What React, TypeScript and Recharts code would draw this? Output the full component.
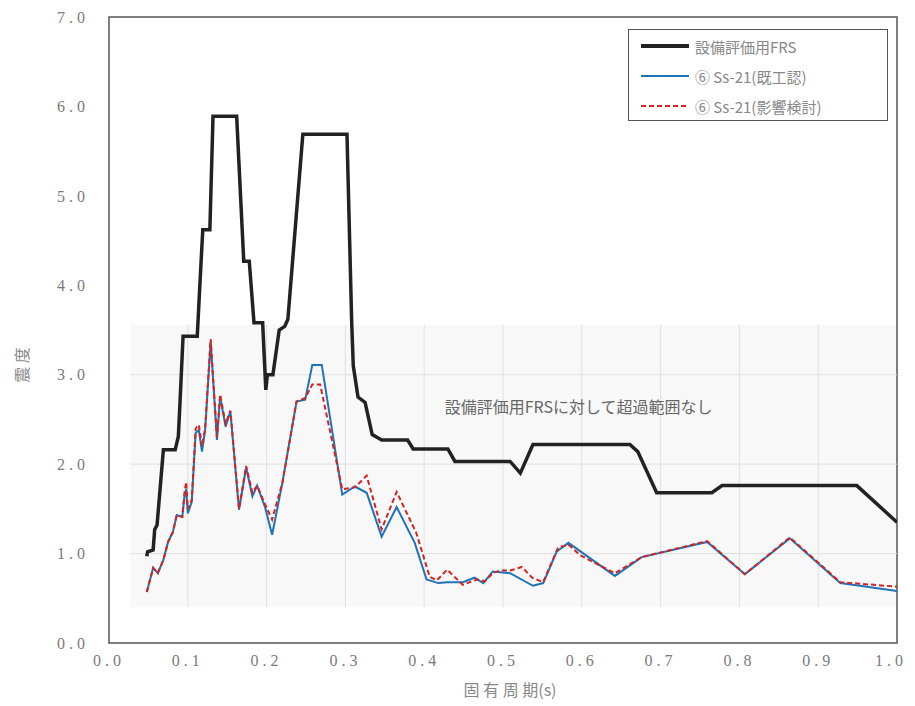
import React from 'react';
import { LineChart, Line, XAxis, YAxis, ReferenceArea, ReferenceLine, ReferenceDot, Legend, Label } from 'recharts';

// 設備評価用FRS
const frsPeriod = [0.048,0.049,0.056,0.058,0.061,0.069,0.084,0.088,0.090,0.094,0.112,0.115,0.119,0.128,0.132,0.162,0.171,0.178,0.184,0.195,0.199,0.201,0.208,0.216,0.223,0.227,0.246,0.302,0.308,0.310,0.316,0.325,0.334,0.340,0.346,0.379,0.386,0.430,0.439,0.509,0.522,0.538,0.661,0.671,0.695,0.765,0.778,0.949,1.0];
const frsValue = [0.97,1.02,1.04,1.27,1.32,2.16,2.16,2.31,2.67,3.43,3.43,3.95,4.62,4.62,5.89,5.89,4.27,4.27,3.58,3.58,2.83,3.0,3.0,3.5,3.54,3.62,5.69,5.69,3.58,3.1,2.75,2.69,2.33,2.3,2.27,2.27,2.17,2.17,2.03,2.03,1.9,2.22,2.22,2.14,1.68,1.68,1.76,1.76,1.35];

// ⑥ Ss-21(既工認)
const kikoPeriod = [0.048,0.056,0.062,0.069,0.075,0.081,0.086,0.093,0.096,0.098,0.100,0.105,0.110,0.114,0.118,0.122,0.129,0.137,0.141,0.148,0.154,0.165,0.174,0.182,0.188,0.198,0.207,0.220,0.238,0.249,0.258,0.270,0.296,0.312,0.327,0.346,0.365,0.388,0.403,0.418,0.429,0.449,0.464,0.475,0.487,0.509,0.538,0.551,0.568,0.583,0.642,0.676,0.759,0.807,0.864,0.928,1.0];
const kikoValue = [0.57,0.84,0.78,0.93,1.13,1.24,1.43,1.41,1.66,1.72,1.45,1.58,2.35,2.38,2.14,2.38,3.37,2.27,2.75,2.42,2.59,1.49,1.96,1.64,1.76,1.52,1.21,1.79,2.7,2.72,3.11,3.11,1.66,1.75,1.68,1.19,1.52,1.12,0.71,0.67,0.68,0.68,0.73,0.67,0.8,0.78,0.64,0.67,1.02,1.12,0.75,0.96,1.13,0.77,1.17,0.67,0.58];

// ⑥ Ss-21(影響検討)
const eikyoPeriod = [0.048,0.056,0.062,0.069,0.075,0.081,0.086,0.093,0.096,0.098,0.100,0.105,0.110,0.114,0.118,0.122,0.129,0.137,0.141,0.148,0.154,0.165,0.174,0.182,0.188,0.198,0.207,0.220,0.238,0.249,0.258,0.268,0.296,0.312,0.327,0.346,0.365,0.390,0.407,0.416,0.429,0.449,0.467,0.477,0.487,0.496,0.509,0.524,0.537,0.551,0.570,0.583,0.598,0.642,0.676,0.759,0.807,0.864,0.928,1.0];
const eikyoValue = [0.57,0.84,0.78,0.93,1.13,1.24,1.43,1.41,1.7,1.8,1.5,1.6,2.4,2.44,2.2,2.4,3.4,2.3,2.78,2.45,2.6,1.5,1.98,1.68,1.76,1.55,1.38,1.79,2.7,2.74,2.89,2.89,1.72,1.74,1.87,1.27,1.69,1.23,0.74,0.7,0.82,0.65,0.71,0.69,0.78,0.81,0.81,0.85,0.73,0.68,1.07,1.1,0.98,0.78,0.96,1.14,0.77,1.18,0.68,0.63];

const xTicks = [0, 0.1, 0.2, 0.3, 0.4, 0.5, 0.6, 0.7, 0.8, 0.9, 1.0];
const yTicks = [0, 1, 2, 3, 4, 5, 6, 7];
const gridX = [0.1, 0.2, 0.3, 0.4, 0.5, 0.6, 0.7, 0.8, 0.9];
const gridY = [1, 2, 3];
const panel = { x1: 0.027, x2: 1.0, y1: 0.4, y2: 3.56 };

const seriesNames = ['設備評価用FRS', '⑥ Ss-21(既工認)', '⑥ Ss-21(影響検討)'];
const annotation = '設備評価用FRSに対して超過範囲なし';
const xTitle = '固 有 周 期(s)';
const yTitle = '震 度';

const toRows = (ts: number[], vs: number[]) => ts.map((t, i) => ({ t, v: vs[i] }));
const frsData = toRows(frsPeriod, frsValue);
const kikoData = toRows(kikoPeriod, kikoValue);
const eikyoData = toRows(eikyoPeriod, eikyoValue);

const tickStyle = { fill: '#7a7a7a', fontSize: 16, fontFamily: 'Liberation Serif', letterSpacing: 4 };

const renderLegend = () => (
  <div style={{ width: 260, height: 92, border: '1.5px solid #555', background: '#fff', boxSizing: 'border-box', fontFamily: 'Noto Sans CJK JP', color: '#888', fontSize: 15, paddingTop: 1 }}>
    {[
      { color: '#222', w: 4, dash: undefined as string | undefined },
      { color: '#1f73b7', w: 2, dash: undefined },
      { color: '#d42323', w: 2, dash: '5 3' },
    ].map((s, i) => (
      <div key={i} style={{ display: 'flex', alignItems: 'center', height: 30, paddingLeft: 12 }}>
        <svg width={48} height={10} style={{ marginRight: 6 }}>
          <line x1={0} y1={5} x2={48} y2={5} stroke={s.color} strokeWidth={s.w} strokeDasharray={s.dash} />
        </svg>
        <span>{seriesNames[i]}</span>
      </div>
    ))}
  </div>
);

export default function App() {
  return (
    <LineChart width={899} height={698} margin={{ top: 9, right: 10, bottom: 18, left: 41 }}>
      <XAxis
        type="number"
        dataKey="t"
        domain={[0, 1]}
        ticks={xTicks}
        tickFormatter={(v: number) => v.toFixed(1)}
        axisLine={false}
        tickLine={false}
        tickSize={0}
        tickMargin={12}
        height={45}
        tick={tickStyle}
        allowDataOverflow
      >
        <Label
          content={() => (
            <text x={502} y={688} textAnchor="middle" fill="#888" fontSize={16} fontFamily="Noto Sans CJK JP">{xTitle}</text>
          )}
        />
      </XAxis>
      <YAxis
        type="number"
        domain={[0, 7]}
        ticks={yTicks}
        tickFormatter={(v: number) => v.toFixed(1)}
        axisLine={false}
        tickLine={false}
        tickSize={0}
        tickMargin={20}
        width={60}
        tick={tickStyle}
      >
        <Label
          content={() => (
            <text x={20} y={357} textAnchor="middle" fill="#888" fontSize={16} fontFamily="Noto Sans CJK JP" transform="rotate(-90 20 357)">{yTitle}</text>
          )}
        />
      </YAxis>
      <ReferenceArea x1={panel.x1} x2={panel.x2} y1={panel.y1} y2={panel.y2} fill="#f8f8f8" fillOpacity={1} stroke="none" />
      {gridX.map((g) => (
        <ReferenceLine key={'gx' + g} segment={[{ x: g, y: panel.y1 }, { x: g, y: panel.y2 }]} stroke="#e0e0e0" strokeWidth={1} />
      ))}
      {gridY.map((g) => (
        <ReferenceLine key={'gy' + g} segment={[{ x: panel.x1, y: g }, { x: panel.x2, y: g }]} stroke="#e0e0e0" strokeWidth={1} />
      ))}
      <ReferenceArea x1={0} x2={1} y1={0} y2={7} fill="none" stroke="#555" strokeWidth={1.5} />
      <Line data={frsData} dataKey="v" type="linear" stroke="#222" strokeWidth={3.5} dot={false} isAnimationActive={false} name={seriesNames[0]} />
      <Line data={kikoData} dataKey="v" type="linear" stroke="#1f73b7" strokeWidth={2} dot={false} isAnimationActive={false} name={seriesNames[1]} />
      <Line data={eikyoData} dataKey="v" type="linear" stroke="#d42323" strokeWidth={2} strokeDasharray="5 3" dot={false} isAnimationActive={false} name={seriesNames[2]} />
      <ReferenceDot
        x={0.426}
        y={2.63}
        r={0}
        fill="none"
        stroke="none"
        label={{ value: annotation, position: 'right', offset: 0, fill: '#666', fontSize: 16, fontFamily: 'Noto Sans CJK JP' }}
      />
      <Legend
        layout="vertical"
        align="center"
        verticalAlign="middle"
        content={renderLegend}
        wrapperStyle={{ top: 21, left: 620, width: 260, height: 92 }}
      />
    </LineChart>
  );
}
